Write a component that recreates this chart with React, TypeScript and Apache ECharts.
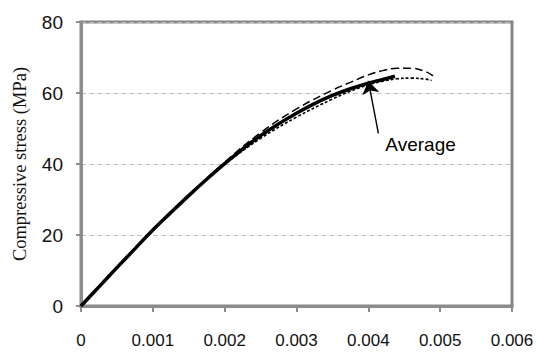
import React, { useEffect, useRef } from "react";
import * as echarts from "echarts";

// strain values (x) and stress values (MPa) for each curve
const avgStrain = [0, 0.00025, 0.0005, 0.00075, 0.001, 0.00125, 0.0015, 0.00175, 0.002, 0.00225, 0.0025, 0.00275, 0.003, 0.00325, 0.0035, 0.00375, 0.004, 0.0042, 0.00437];
const avgStress = [0, 5.4, 10.8, 16.1, 21.4, 26.3, 31.1, 35.7, 40.1, 44.2, 48.0, 51.3, 54.3, 57.0, 59.3, 61.2, 62.8, 63.8, 64.7];

const longStrain = [0, 0.0005, 0.001, 0.0015, 0.002, 0.0025, 0.003, 0.0035, 0.00375, 0.004, 0.0042, 0.0044, 0.0046, 0.0048, 0.0049];
const longStress = [0, 10.7, 21.3, 31.2, 40.5, 48.8, 55.5, 60.8, 63.0, 65.1, 66.3, 67.0, 67.0, 66.0, 64.8];

const shortStrain = [0, 0.0005, 0.001, 0.0015, 0.002, 0.0025, 0.003, 0.0035, 0.00375, 0.004, 0.0042, 0.0044, 0.0046, 0.0048, 0.00488];
const shortStress = [0, 11.0, 21.6, 31.2, 39.9, 47.2, 53.2, 58.3, 60.5, 62.3, 63.3, 64.0, 64.2, 63.9, 63.5];

const xTicks = { min: 0, max: 0.006, interval: 0.001 };
const yTicks = { min: 0, max: 80, interval: 20 };

// annotation: arrow from label to average curve, label text
const arrowFrom = [0.00414, 48.6];
const arrowTo = [0.004, 63.4];
const labelAt = [0.00423, 45.5];
const labelText = "Average";

const zip = (xs: number[], ys: number[]) => xs.map((x, i) => [x, ys[i]]);

export default function App() {
  const ref = useRef<HTMLDivElement>(null);
  useEffect(() => {
    document.body.style.margin = "0";
    const chart = echarts.init(ref.current!, null, { renderer: "svg" });
    const axisGray = "#8c8c8c";
    chart.setOption({
      animation: false,
      grid: {
        left: 81,
        right: 26,
        top: 22,
        bottom: 54,
        show: true,
        borderColor: "#858585",
        borderWidth: 3,
      },
      xAxis: {
        type: "value",
        min: xTicks.min,
        max: xTicks.max,
        interval: xTicks.interval,
        axisLine: { lineStyle: { color: axisGray, width: 3 } },
        axisTick: { show: true, length: 6, lineStyle: { color: axisGray, width: 2 } },
        splitLine: { show: false },
        axisLabel: {
          margin: 26,
          fontSize: 17,
          color: "#111",
          fontFamily: "Liberation Sans",
          formatter: (v: number) => (v === 0 ? "0" : v.toFixed(3)),
        },
      },
      yAxis: {
        type: "value",
        min: yTicks.min,
        max: yTicks.max,
        interval: yTicks.interval,
        name: "Compressive stress (MPa)",
        nameLocation: "middle",
        nameGap: 52,
        nameTextStyle: { fontFamily: "Liberation Serif", fontSize: 18.5, color: "#111" },
        axisLine: { show: true, lineStyle: { color: axisGray, width: 3 } },
        axisTick: { show: true, length: 5, lineStyle: { color: axisGray, width: 2 } },
        splitLine: { show: true, lineStyle: { color: "#c0c0c0", width: 1, type: [5, 3] } },
        axisLabel: { margin: 18, fontSize: 19, color: "#111", fontFamily: "Liberation Sans" },
      },
      series: [
        {
          type: "line",
          data: zip(longStrain, longStress),
          smooth: 0.4,
          symbol: "none",
          lineStyle: { color: "#000", width: 1.5, type: [8, 4] },
          z: 2,
        },
        {
          type: "line",
          data: zip(shortStrain, shortStress),
          smooth: 0.4,
          symbol: "none",
          lineStyle: { color: "#000", width: 1.6, type: [3, 2] },
          z: 2,
        },
        {
          type: "line",
          data: zip(avgStrain, avgStress),
          smooth: 0.4,
          symbol: "none",
          lineStyle: { color: "#000", width: 3.5 },
          z: 3,
          markLine: {
            silent: true,
            symbol: ["none", "arrow"],
            symbolSize: 13,
            label: { show: false },
            lineStyle: { color: "#000", width: 1.4, type: "solid" },
            itemStyle: { color: "#000" },
            data: [[{ coord: arrowFrom }, { coord: arrowTo }]],
            z: 5,
          },
          markPoint: {
            silent: true,
            symbol: "circle",
            symbolSize: 1,
            itemStyle: { color: "rgba(0,0,0,0)" },
            label: {
              show: true,
              position: "right",
              distance: 0,
              formatter: labelText,
              fontSize: 19,
              color: "#000",
              fontFamily: "Liberation Sans",
            },
            data: [{ coord: labelAt }],
          },
        },
      ],
    });
    return () => chart.dispose();
  }, []);
  return <div ref={ref} style={{ width: 538, height: 360 }} />;
}
